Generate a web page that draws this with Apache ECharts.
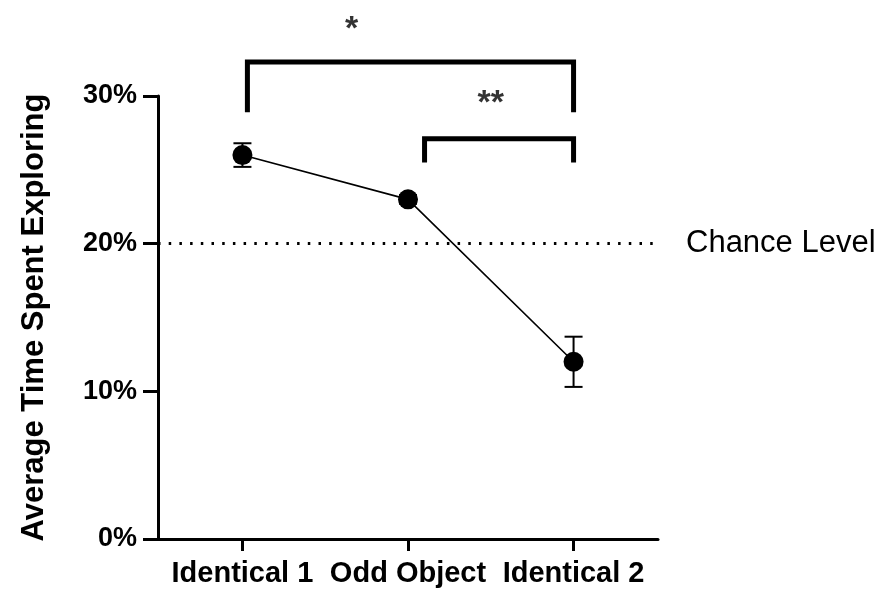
<!DOCTYPE html>
<html>
<head>
<meta charset="utf-8">
<script src="https://cdn.jsdelivr.net/npm/echarts@6/dist/echarts.min.js"></script>
<style>
html,body{margin:0;padding:0;background:#fff;}
#chart{width:876px;height:593px;}
</style>
</head>
<body>
<div id="chart"></div>
<script>
// ---- data ----
var categories = ['Identical 1', 'Odd Object', 'Identical 2'];
var categoryPos = [1, 2, 3];
var means = [26.0, 23.0, 12.0];
var errors = [0.8, 0.3, 1.7];
var yTicks = [0, 10, 20, 30];
var chanceLevel = 20;
var chanceLabel = 'Chance Level';
var yTitle = 'Average Time Spent Exploring';
// significance brackets (x, y) corner points
var bracketAll = [[1.03, 28.9], [1.03, 32.3], [3.0, 32.3], [3.0, 28.9]];
var bracketOdd = [[2.1, 25.5], [2.1, 27.1], [3.0, 27.1], [3.0, 25.5]];
var stars = [[1.66, 34.5, '*'], [2.5, 29.45, '**']];

var FONT = '"Liberation Sans", Arial, sans-serif';

var lineData = categoryPos.map(function (x, i) { return [x, means[i]]; });
var errData = categoryPos.map(function (x, i) { return [x, means[i] - errors[i], means[i] + errors[i]]; });

var chart = echarts.init(document.getElementById('chart'), null, {renderer: 'canvas'});
var option = {
  backgroundColor: '#ffffff',
  animation: false,
  grid: {left: 158, right: 218, top: 96, bottom: 54, containLabel: false, outerBoundsMode: 'none'},
  xAxis: {
    type: 'value', min: 0.49, max: 3.51,
    splitLine: {show: false},
    axisLine: {show: true, onZero: false, lineStyle: {color: '#000', width: 3}},
    axisTick: {show: true, customValues: categoryPos, length: 12, lineStyle: {color: '#000', width: 3}},
    axisLabel: {
      customValues: categoryPos, margin: 20, color: '#000',
      fontFamily: FONT, fontWeight: 'bold', fontSize: 29,
      formatter: function (v) { return categories[Math.round(v) - 1]; }
    }
  },
  yAxis: {
    type: 'value', min: 0, max: 30, interval: 10,
    name: yTitle, nameLocation: 'middle', nameGap: 108, nameRotate: 90,
    nameTextStyle: {fontFamily: FONT, fontWeight: 'bold', fontSize: 31, color: '#000'},
    splitLine: {show: false},
    axisLine: {show: true, lineStyle: {color: '#000', width: 3}},
    axisTick: {show: true, length: 15, lineStyle: {color: '#000', width: 3}},
    axisLabel: {margin: 21, color: '#000', fontFamily: FONT, fontWeight: 'bold', fontSize: 27,
      formatter: '{value}%'}
  },
  series: [
    {
      type: 'custom', name: 'err', z: 3,
      data: errData,
      renderItem: function (params, api) {
        var x = api.value(0);
        var lo = api.coord([x, api.value(1)]);
        var hi = api.coord([x, api.value(2)]);
        var hw = 9;
        var st = {stroke: '#000', lineWidth: 2};
        return {type: 'group', children: [
          {type: 'line', shape: {x1: lo[0], y1: lo[1], x2: hi[0], y2: hi[1]}, style: st},
          {type: 'line', shape: {x1: lo[0] - hw, y1: lo[1], x2: lo[0] + hw, y2: lo[1]}, style: st},
          {type: 'line', shape: {x1: hi[0] - hw, y1: hi[1], x2: hi[0] + hw, y2: hi[1]}, style: st}
        ]};
      }
    },
    {
      type: 'line', name: 'mean', z: 4,
      data: lineData,
      symbol: 'circle', symbolSize: 20,
      itemStyle: {color: '#000'},
      lineStyle: {color: '#000', width: 1.6},
      markLine: {
        silent: true, symbol: 'none',
        lineStyle: {color: '#000', width: 3, type: [2.5, 8.2]},
        label: {show: true, position: 'end', distance: 28, formatter: chanceLabel,
          color: '#000', fontFamily: FONT, fontSize: 31},
        data: [{yAxis: chanceLevel}]
      }
    },
    {
      type: 'line', name: 'bracketAll', clip: false, symbol: 'none',
      data: bracketAll, lineStyle: {color: '#000', width: 5, join: 'miter', cap: 'butt'}
    },
    {
      type: 'line', name: 'bracketOdd', clip: false, symbol: 'none',
      data: bracketOdd, lineStyle: {color: '#000', width: 5, join: 'miter', cap: 'butt'}
    },
    {
      type: 'scatter', name: 'stars', clip: false, symbolSize: 0,
      data: stars.map(function (s) { return {value: [s[0], s[1]], name: s[2]}; }),
      label: {show: true, position: 'inside', formatter: function (p) { return p.name; },
        color: '#000', fontFamily: FONT, fontWeight: 'bold', fontSize: 34}
    }
  ]
};
chart.setOption(option);
</script>
</body>
</html>
